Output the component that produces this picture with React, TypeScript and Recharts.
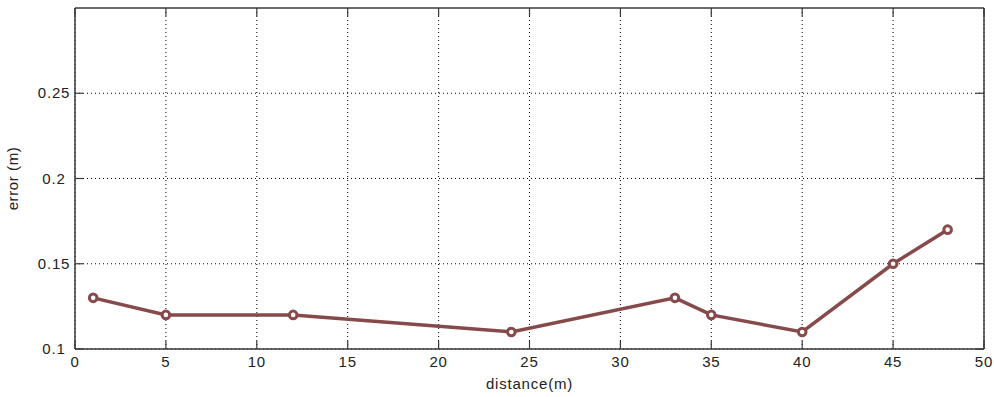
import { CartesianGrid, Line, LineChart, ReferenceLine, XAxis, YAxis } from 'recharts'

const distances = [1, 5, 12, 24, 33, 35, 40, 45, 48]
const errors = [0.13, 0.12, 0.12, 0.11, 0.13, 0.12, 0.11, 0.15, 0.17]
const xTicks = [0, 5, 10, 15, 20, 25, 30, 35, 40, 45, 50]
const yTicks = [0.1, 0.15, 0.2, 0.25]

const points = distances.map((distance, i) => ({ distance, error: errors[i] }))

const axisColor = '#3a3a3a'
const lineColor = '#864a4a'
const TICK_LEN = 8
const font = { fontSize: 15, letterSpacing: 0.8, fill: '#222', fontFamily: 'Liberation Sans, Arial, sans-serif' }

// Matlab-style ticks point into the plot, so draw them ourselves
function BottomTick({ x, y, payload }: any) {
  return (
    <g>
      <line x1={x} x2={x} y1={y} y2={y - TICK_LEN} stroke={axisColor} strokeWidth={1.2} />
      <text x={x} y={y + 18} textAnchor="middle" {...font}>
        {payload.value}
      </text>
    </g>
  )
}

function TopTick({ x, y }: any) {
  return <line x1={x} x2={x} y1={y} y2={y + TICK_LEN} stroke={axisColor} strokeWidth={1.2} />
}

function LeftTick({ x, y, payload }: any) {
  return (
    <g>
      <line x1={x} x2={x + TICK_LEN} y1={y} y2={y} stroke={axisColor} strokeWidth={1.2} />
      <text x={x - 21} y={y + 5} textAnchor="middle" {...font}>
        {payload.value}
      </text>
    </g>
  )
}

function RightTick({ x, y }: any) {
  return <line x1={x} x2={x - TICK_LEN} y1={y} y2={y} stroke={axisColor} strokeWidth={1.2} />
}

export default function App() {
  return (
    <div style={{ position: 'absolute', left: 0, top: 0, background: '#fff' }}>
      <LineChart width={994} height={397} data={points} margin={{ top: 0, right: 0, bottom: 0, left: 0 }}>
        <CartesianGrid stroke="#000" strokeDasharray="1 3" horizontalValues={yTicks} verticalValues={xTicks} />
        <XAxis
          dataKey="distance"
          type="number"
          domain={[0, 50]}
          ticks={xTicks}
          interval={0}
          height={48}
          tickSize={0}
          tickMargin={0}
          tickLine={false}
          stroke={axisColor}
          strokeWidth={1.5}
          tick={<BottomTick />}
          label={{ value: 'distance(m)', position: 'insideBottom', offset: 8, style: { ...font } }}
        />
        <XAxis
          xAxisId="top"
          orientation="top"
          dataKey="distance"
          type="number"
          domain={[0, 50]}
          ticks={xTicks}
          interval={0}
          height={8}
          tickSize={0}
          tickMargin={0}
          tickLine={false}
          axisLine={false}
          tick={<TopTick />}
        />
        <YAxis
          type="number"
          domain={[0.1, 0.3]}
          ticks={yTicks}
          interval={0}
          width={75}
          tickSize={0}
          tickMargin={0}
          tickLine={false}
          stroke={axisColor}
          strokeWidth={1.5}
          tick={<LeftTick />}
          label={{ value: 'error (m)', angle: -90, position: 'insideLeft', offset: 13, style: { ...font, letterSpacing: 0.6, textAnchor: 'middle' } }}
        />
        <YAxis
          yAxisId="right"
          orientation="right"
          dataKey="error"
          type="number"
          domain={[0.1, 0.3]}
          ticks={yTicks}
          interval={0}
          width={10}
          tickSize={0}
          tickMargin={0}
          tickLine={false}
          axisLine={false}
          tick={<RightTick />}
        />
        <ReferenceLine y={0.3} stroke={axisColor} strokeWidth={1.5} />
        <ReferenceLine x={50} stroke={axisColor} strokeWidth={1.5} />
        <Line
          dataKey="error"
          stroke={lineColor}
          strokeWidth={3.5}
          dot={{ r: 3.8, fill: '#fff', stroke: lineColor, strokeWidth: 3 }}
          isAnimationActive={false}
        />
      </LineChart>
    </div>
  )
}
